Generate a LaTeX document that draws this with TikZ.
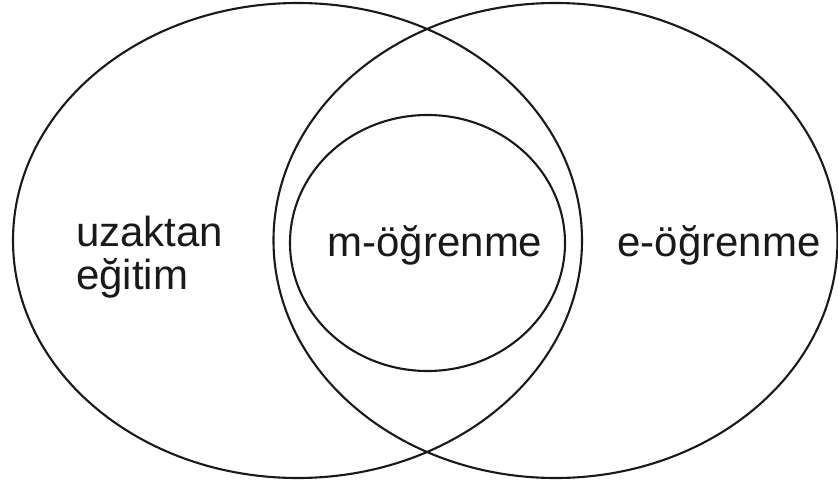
\documentclass[tikz,border=0pt]{standalone}
\usepackage{fontspec}
\setmainfont{Liberation Sans}
\begin{document}
\begin{tikzpicture}[x=1pt,y=-1pt,
  ring/.style={draw=black!90,line width=2.1pt},
  lbl/.style={inner sep=0pt,font=\fontsize{42}{42}\selectfont,text=black!90}]
\useasboundingbox (0,0) rectangle (838,484);
\draw[ring] (297.5,240.5) ellipse [x radius=284.5, y radius=237.5];
\draw[ring] (555.5,240.5) ellipse [x radius=282, y radius=237.5];
\draw[ring] (427.5,243) ellipse [x radius=137.5, y radius=128];
\node[lbl,anchor=base west] (uz1) at (76,246.7) {uzaktan};
\node[lbl,anchor=base west] (uz2) at (76,289) {eğitim};
\node[lbl,anchor=base] (m) at (435,256.7) {m-öğrenme};
\node[lbl,anchor=base] (e) at (719,256.7) {e-öğrenme};
\end{tikzpicture}
\end{document}
